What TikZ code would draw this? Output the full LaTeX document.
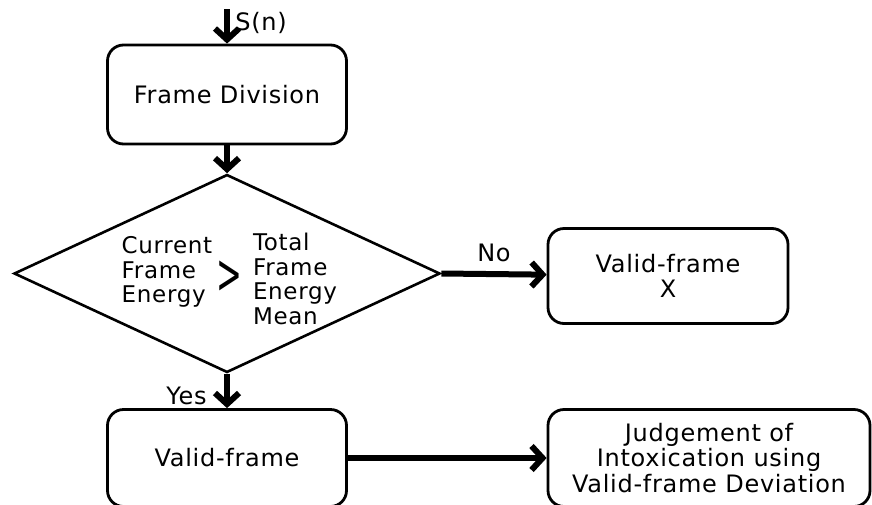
\documentclass[tikz,border=0pt]{standalone}
\usepackage{fontspec}
\usepackage{graphicx}
\setmainfont{DejaVu Sans}[LetterSpace=3]
\usetikzlibrary{shapes.geometric,arrows.meta}
\begin{document}
\begin{tikzpicture}[x=1pt, y=-1pt,
    boxStyle/.style={draw, line width=2.8pt, rounded corners=16pt, minimum width=239pt, minimum height=95pt, align=center, font=\fontsize{24}{25.5}\selectfont},
    decisionStyle/.style={draw, diamond, line width=2.6pt, minimum width=426pt, minimum height=198pt, inner sep=0pt},
    textStyle/.style={align=left, inner sep=0pt, font=\fontsize{23}{24.5}\selectfont},
    labelStyle/.style={font=\fontsize{24}{24}\selectfont},
    arrowStyle/.style={line width=6pt, -{Straight Barb[length=11pt,width=24pt]}}]
    \useasboundingbox (0,0) rectangle (872,504);

    \coordinate (in) at (227, 9);
    \node[boxStyle, minimum height=99pt](div) at (227, 94.5) {Frame Division};
    \node[decisionStyle](dec) at (227, 273.5) {};
    \node[textStyle](cur) at (167, 272) {Current\\Frame\\Energy};
    \node[inner sep=0pt](gt) at (229, 277) {\scalebox{0.55}[1]{\fontsize{56}{56}\selectfont >}};
    \node[textStyle](tot) at (295, 279) {Total\\Frame\\Energy\\Mean};
    \node[boxStyle, minimum width=240pt](vfx) at (668, 276) {Valid-frame\\X};
    \node[boxStyle, minimum height=97pt](vf) at (227, 458) {Valid-frame};
    \node[boxStyle, minimum width=322pt, minimum height=97pt](judge) at (709, 458) {Judgement of\\Intoxication using\\Valid-frame Deviation};

    \draw[arrowStyle] (in) -- (div) node[pos=0.4, right=2pt, labelStyle]{S(n)};
    \draw[arrowStyle] (div) -- (dec);
    \draw[arrowStyle] (dec.east) -- (vfx) node[pos=0.5, above=6pt, labelStyle]{No};
    \draw[arrowStyle] (dec.south) -- (vf) node[pos=0.65, left=14pt, labelStyle]{Yes};
    \draw[arrowStyle] (vf) -- (judge);
\end{tikzpicture}
\end{document}
